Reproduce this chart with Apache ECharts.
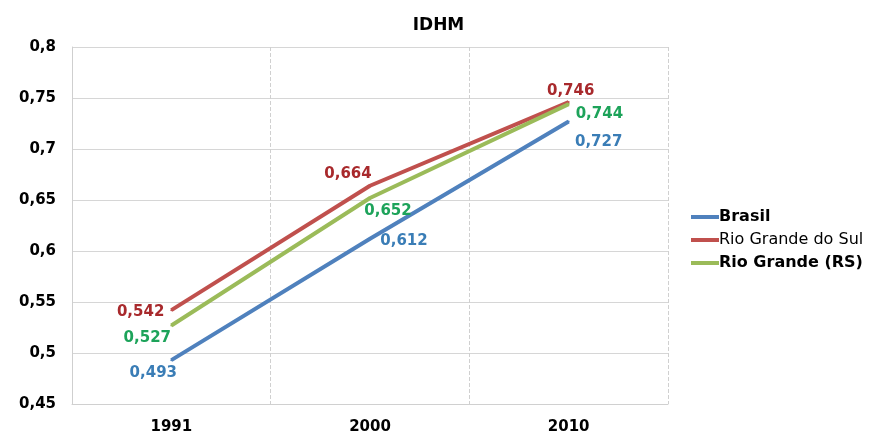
<!DOCTYPE html>
<html><head><meta charset="utf-8">
<script src="https://cdn.jsdelivr.net/npm/echarts@6/dist/echarts.min.js"></script>
<style>html,body{margin:0;padding:0;background:#fff}#c{width:877px;height:435px}</style>
</head><body><div id="c"></div>
<script>
const categories = ['1991', '2000', '2010'];
const brasil = [0.493, 0.612, 0.727];
const rioGrandeDoSul = [0.542, 0.664, 0.746];
const rioGrandeRS = [0.527, 0.652, 0.744];
const seriesNames = ['Brasil', 'Rio Grande do Sul', 'Rio Grande (RS)'];

const FONT = '"DejaVu Sans", Verdana, sans-serif';
function fmt(v){ return String(v).replace('.', ','); }

// label placement config (not data): base position + nudge
const place = {
  'Brasil': {pos:['bottom','bottom','bottom'], nudge:[[-18,-1],[34,-11],[30,7]]},
  'Rio Grande do Sul': {pos:['left','top','top'], nudge:[[-1,2],[-22,2],[2,3]]},
  'Rio Grande (RS)': {pos:['bottom','bottom','right'], nudge:[[-24,-1],[18,0],[1,10]]}
};
const lineColors = {'Brasil':'#4F81BD','Rio Grande do Sul':'#C0504D','Rio Grande (RS)':'#9BBB59'};
const labelColors = {'Brasil':'#3A7DB6','Rio Grande do Sul':'#A8292C','Rio Grande (RS)':'#1DA35A'};

function mk(name, vals){
  return {
    name, type:'line',
    data: vals.map((v,i)=>({value:v, label:{show:true, position:place[name].pos[i]}})),
    symbol:'circle', symbolSize:2, showSymbol:true, showAllSymbol:true,
    lineStyle:{color:lineColors[name], width:4},
    itemStyle:{color:lineColors[name]},
    label:{show:true, formatter:p=>fmt(p.value), color:labelColors[name], fontFamily:FONT, fontWeight:'bold', fontSize:15},
    labelLayout:function(p){ const n = place[name].nudge[p.dataIndex]; return {dx:n[0], dy:n[1], hideOverlap:false}; },
    animation:false
  };
}

const chart = echarts.init(document.getElementById('c'), null, {renderer:'canvas'});
chart.setOption({
  animation:false,
  title:{text:'IDHM', left:'center', top:12, textStyle:{fontFamily:FONT, fontWeight:'bold', fontSize:17, color:'#000'}},
  legend:{
    orient:'vertical', left:686, top:204, itemWidth:28, itemHeight:4, itemGap:7,
    icon:'rect',
    data:seriesNames,
    formatter:n=> n==='Rio Grande do Sul' ? '{n|'+n+'}' : '{b|'+n+'}',
    textStyle:{fontFamily:FONT, fontSize:16, color:'#000', padding:[0,0,0,-5],
      rich:{b:{fontFamily:FONT, fontSize:16, fontWeight:'bold', color:'#000'}, n:{fontFamily:FONT, fontSize:16, color:'#000'}}}
  },
  grid:{left:72, right:209, top:47, bottom:31},
  xAxis:{
    type:'category', data:categories, boundaryGap:true,
    axisLine:{show:true, lineStyle:{color:'#d0d0d0'}}, axisTick:{show:false},
    axisLabel:{fontFamily:FONT, fontWeight:'bold', fontSize:15, color:'#000', margin:16},
    splitLine:{show:true, lineStyle:{color:'#d0d0d0', type:'dashed', width:1}}
  },
  yAxis:{
    type:'value', min:0.45, max:0.8, interval:0.05,
    axisLine:{show:true, lineStyle:{color:'#cfcfcf'}}, axisTick:{show:false},
    axisLabel:{fontFamily:FONT, fontWeight:'bold', fontSize:15, color:'#000', margin:16, formatter:v=>fmt(+v.toFixed(2))},
    splitLine:{show:true, lineStyle:{color:'#d6d6d6', width:1}}
  },
  series:[mk('Brasil', brasil), mk('Rio Grande do Sul', rioGrandeDoSul), mk('Rio Grande (RS)', rioGrandeRS)]
});
</script></body></html>
